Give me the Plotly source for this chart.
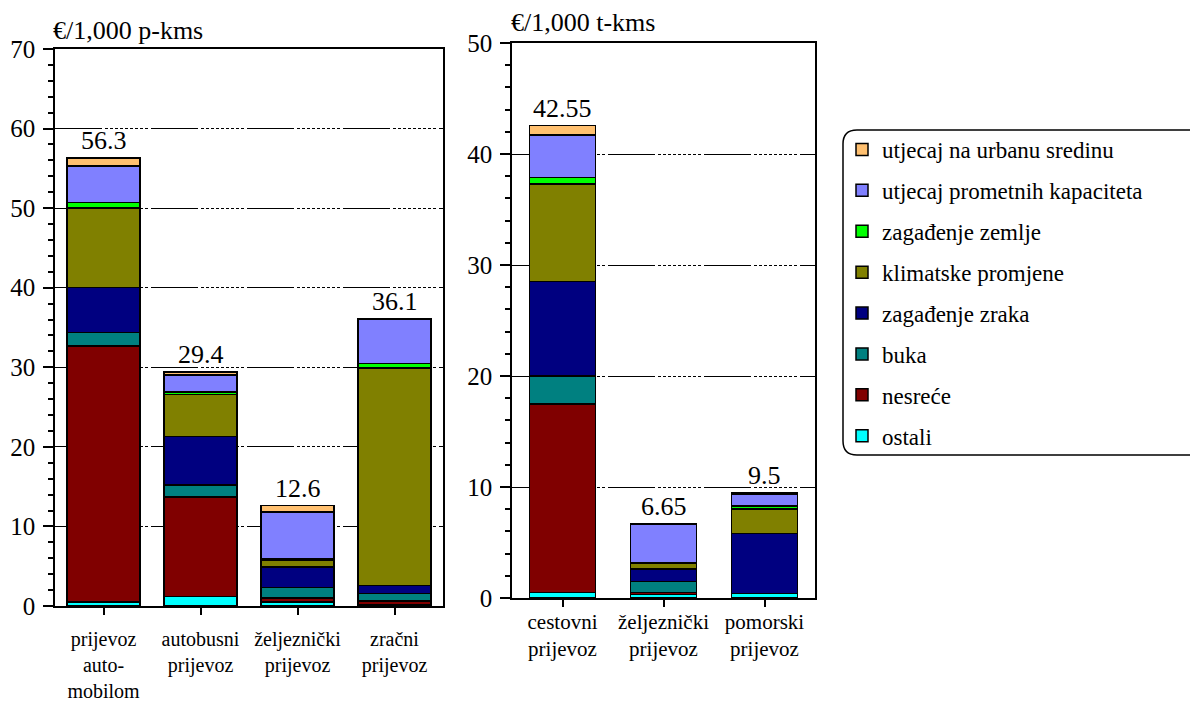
import plotly.graph_objects as go

# ---------------- data ----------------
series_names = ["ostali", "nesreće", "buka", "zagađenje zraka", "klimatske promjene",
                "zagađenje zemlje", "utjecaj prometnih kapaciteta", "utjecaj na urbanu sredinu"]
series_colors = ["#00FFFF", "#800000", "#008080", "#000080", "#808000",
                 "#00FF00", "#8080FF", "#FFC070"]

pass_categories = ["prijevoz<br>auto-<br>mobilom", "autobusni<br>prijevoz",
                   "željeznički<br>prijevoz", "zračni<br>prijevoz"]
ostali_p = [0.5, 1.2, 0.5, 0.1]
nesrece_p = [32.2, 12.5, 0.5, 0.5]
buka_p = [1.7, 1.5, 1.3, 1.0]
zrak_p = [5.6, 6.1, 2.6, 1.0]
klima_p = [10.0, 5.3, 0.8, 27.3]
zemlja_p = [0.7, 0.3, 0.2, 0.6]
kapacitet_p = [4.6, 2.1, 5.9, 5.5]
urban_p = [1.0, 0.4, 0.8, 0.1]
pass_totals = [56.3, 29.4, 12.6, 36.1]
pass_total_labels = ["56.3", "29.4", "12.6", "36.1"]

freight_categories = ["cestovni<br>prijevoz", "željeznički<br>prijevoz", "pomorski<br>prijevoz"]
ostali_t = [0.5, 0.3, 0.4]
nesrece_t = [17.0, 0.2, 0.0]
buka_t = [2.5, 1.0, 0.0]
zrak_t = [8.5, 1.1, 5.4]
klima_t = [8.8, 0.5, 2.2]
zemlja_t = [0.6, 0.1, 0.3]
kapacitet_t = [3.8, 3.4, 1.05]
urban_t = [0.85, 0.05, 0.15]
freight_totals = [42.55, 6.65, 9.5]
freight_total_labels = ["42.55", "6.65", "9.5"]

pass_series = [ostali_p, nesrece_p, buka_p, zrak_p, klima_p, zemlja_p, kapacitet_p, urban_p]
freight_series = [ostali_t, nesrece_t, buka_t, zrak_t, klima_t, zemlja_t, kapacitet_t, urban_t]

# ---------------- figure ----------------
OFF = 8                      # page body margin of the browser
W, H = 1198 - OFF, 705 - OFF
FONT = "Liberation Serif"

def px_x(p):
    return (p - OFF) / W

def px_y(p):
    return 1 - (p - OFF) / H

fig = go.Figure()

n = len(series_names)
for i, (name, color, vp, vt) in enumerate(zip(series_names, series_colors, pass_series, freight_series)):
    rank = (n - i) * 10
    fig.add_trace(go.Bar(
        x=pass_categories, y=vp, name=name, legendgroup=name, legendrank=rank,
        marker=dict(color=color, line=dict(color="black", width=1.5)),
        width=0.75, xaxis="x", yaxis="y", showlegend=True, hoverinfo="skip"))
    fig.add_trace(go.Bar(
        x=freight_categories, y=vt, name=name, legendgroup=name, legendrank=rank,
        marker=dict(color=color, line=dict(color="black", width=1.5)),
        width=0.65, xaxis="x2", yaxis="y2", showlegend=False, hoverinfo="skip"))

# totals above bars
for c, t, lab in zip(pass_categories, pass_totals, pass_total_labels):
    fig.add_annotation(x=c, y=t, text=lab, xref="x", yref="y", showarrow=False,
                       yanchor="bottom", yshift=1, font=dict(family=FONT, size=26, color="black"))
for c, t, lab in zip(freight_categories, freight_totals, freight_total_labels):
    fig.add_annotation(x=c, y=t, text=lab, xref="x2", yref="y2", showarrow=False,
                       yanchor="bottom", yshift=1, font=dict(family=FONT, size=26, color="black"))

# axis unit titles
fig.add_annotation(x=px_x(51), y=px_y(30), xref="paper", yref="paper", text="€/1,000 p-kms",
                   showarrow=False, xanchor="left", yanchor="middle",
                   font=dict(family=FONT, size=26, color="black"))
fig.add_annotation(x=px_x(509), y=px_y(23), xref="paper", yref="paper", text="€/1,000 t-kms",
                   showarrow=False, xanchor="left", yanchor="middle",
                   font=dict(family=FONT, size=26, color="black"))

grid_dash = "47px,3px," + "3px,2px," * 8 + "3px,3px"

yaxis_common = dict(
    dtick=10, tick0=0, ticks="outside", ticklen=10, tickwidth=1.5, tickcolor="black",
    showline=True, linecolor="black", linewidth=1.5, mirror=True,
    showgrid=True, gridcolor="black", gridwidth=1, griddash=grid_dash,
    zeroline=False, tickfont=dict(family=FONT, size=25, color="black"),
    minor=dict(dtick=2, ticks="outside", ticklen=5, tickwidth=1.5, tickcolor="black", showgrid=False),
    ticklabelstandoff=3, fixedrange=True, automargin=False,
)
xaxis_common = dict(
    type="category", ticks="outside", ticklen=7, tickwidth=1.5, tickcolor="black",
    showline=True, linecolor="black", linewidth=1.5, mirror=True, showgrid=False,
    fixedrange=True, automargin=False,
)

fig.update_layout(
    width=W, height=H,
    margin=dict(l=0, r=0, t=0, b=0, autoexpand=False),
    paper_bgcolor="white", plot_bgcolor="white",
    barmode="stack",
    font=dict(family=FONT, color="black"),
    xaxis=dict(**xaxis_common, domain=[px_x(55), px_x(443)], anchor="y",
               range=[-0.5, 3.5], ticklabelstandoff=7,
               tickfont=dict(family=FONT, size=20, color="black")),
    yaxis=dict(**yaxis_common, domain=[px_y(606), px_y(49)], anchor="x", range=[0, 70]),
    xaxis2=dict(**xaxis_common, domain=[px_x(512), px_x(815)], anchor="y2",
                range=[-0.5, 2.5], ticklabelstandoff=-3,
                tickfont=dict(family=FONT, size=21, color="black")),
    yaxis2=dict(**yaxis_common, domain=[px_y(598), px_y(43)], anchor="x2", range=[0, 50]),
    legend=dict(
        x=px_x(842), y=px_y(128), xanchor="left", yanchor="top",
        traceorder="grouped", tracegroupgap=8,
        font=dict(family=FONT, size=23, color="black"),
        bgcolor="rgba(0,0,0,0)", borderwidth=0,
    ),
    showlegend=True,
)

# rounded legend frame (open on the right, clipped by the image edge)
x0, x1 = px_x(843), px_x(1210)
yt, yb = px_y(130), px_y(455)
rx, ry = 14 / W, 14 / H
path = (f"M {x1} {yt} L {x0 + rx} {yt} Q {x0} {yt} {x0} {yt - ry} "
        f"L {x0} {yb + ry} Q {x0} {yb} {x0 + rx} {yb} L {x1} {yb}")
fig.add_shape(type="path", path=path, xref="paper", yref="paper",
              line=dict(color="black", width=1.5), fillcolor="rgba(0,0,0,0)")

fig.write_html("out.html")
